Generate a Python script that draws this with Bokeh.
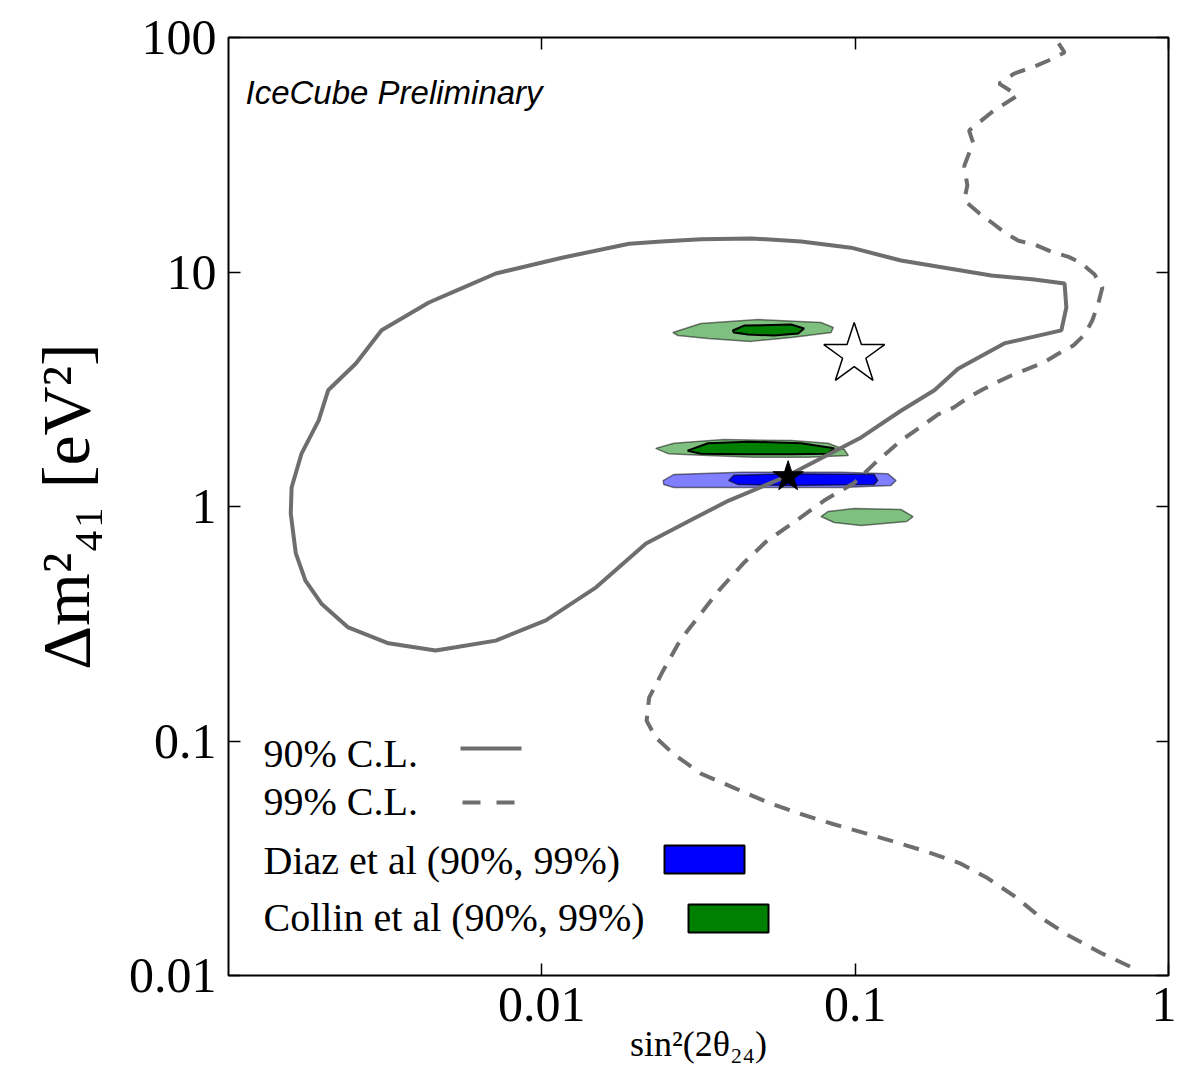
from bokeh.plotting import figure
from bokeh.models import (Range1d, FixedTicker, CustomJSTickFormatter, LogAxis,
                          Label, Arrow, PolyAnnotation)
from bokeh.embed import file_html
from bokeh.resources import INLINE

# ---------------- data ----------------
# IceCube 90% C.L. contour (closed)
cl90_sin2 = [0.0322, 0.0466, 0.0672, 0.0970, 0.140, 0.272, 0.373, 0.466, 0.472, 0.455,
             0.299, 0.213, 0.179, 0.140, 0.1045, 0.0593, 0.0395, 0.0310, 0.0215, 0.0149,
             0.0103, 0.00713, 0.00531, 0.00458, 0.00324, 0.00241, 0.00198, 0.00176, 0.00164, 0.00158,
             0.00159, 0.00171, 0.00194, 0.00208, 0.00255, 0.00308, 0.00436, 0.00554, 0.00713, 0.0116,
             0.0190, 0.0241, 0.0322]
cl90_dm2 = [13.8, 13.9, 13.5, 12.7, 11.2, 9.66, 9.29, 8.93, 7.06, 5.64,
            4.96, 3.87, 3.13, 2.56, 1.97, 1.33, 1.06, 0.898, 0.695, 0.452,
            0.327, 0.268, 0.251, 0.243, 0.261, 0.305, 0.385, 0.483, 0.631, 0.933,
            1.205, 1.68, 2.33, 3.13, 4.07, 5.64, 7.41, 8.51, 9.85, 11.5,
            13.2, 13.5, 13.8]

# IceCube 99% C.L. contour (open)
cl99_sin2 = [0.446, 0.466, 0.414, 0.373, 0.322, 0.288, 0.330, 0.272, 0.231, 0.238,
             0.223, 0.228, 0.223, 0.249, 0.272, 0.303, 0.332, 0.373, 0.423, 0.480,
             0.527, 0.581, 0.615, 0.597, 0.571, 0.540, 0.497, 0.446, 0.399, 0.357,
             0.315, 0.286, 0.256, 0.230, 0.206, 0.184, 0.166, 0.140, 0.115, 0.0993,
             0.0796, 0.0649, 0.0520, 0.0439, 0.0367, 0.0322, 0.0276, 0.0244, 0.0220, 0.0216,
             0.0231, 0.0262, 0.0322, 0.0407, 0.0527, 0.0662, 0.0838, 0.108, 0.136, 0.172,
             0.216, 0.266, 0.327, 0.390, 0.480, 0.607, 0.802]
cl99_dm2 = [94.3, 86.3, 79.8, 75.2, 70.2, 63.6, 56.6, 47.9, 40.1, 35.6,
            28.4, 23.4, 20.2, 17.8, 16.3, 14.6, 13.6, 13.1, 12.2, 11.6,
            10.9, 9.75, 8.59, 7.34, 6.21, 5.41, 4.86, 4.49, 4.11, 3.87,
            3.62, 3.41, 3.16, 2.92, 2.64, 2.47, 2.24, 1.91, 1.52, 1.26,
            1.06, 0.871, 0.709, 0.571, 0.438, 0.350, 0.268, 0.200, 0.153, 0.122,
            0.1035, 0.0885, 0.0726, 0.0634, 0.0547, 0.0491, 0.0445, 0.0404, 0.0369, 0.0335,
            0.0301, 0.0259, 0.0215, 0.0177, 0.0148, 0.0125, 0.0105]

# Collin et al regions (99% outer, 90% inner)
collin99_up_sin2 = [0.0262, 0.0322, 0.0490, 0.0778, 0.0851, 0.0838, 0.0625, 0.0466, 0.0339, 0.0272]
collin99_up_dm2 = [5.52, 6.03, 6.27, 6.09, 5.80, 5.52, 5.26, 5.06, 5.20, 5.36]
collin90_up_sin2 = [0.0407, 0.0442, 0.0625, 0.0687, 0.0658, 0.0551, 0.0455, 0.0410]
collin90_up_dm2 = [5.63, 5.91, 5.97, 5.74, 5.47, 5.36, 5.41, 5.52]
collin99_mid_sin2 = [0.0231, 0.0264, 0.0381, 0.0625, 0.0820, 0.0923, 0.0951, 0.0708, 0.0475, 0.0339, 0.0253]
collin99_mid_dm2 = [1.77, 1.86, 1.93, 1.91, 1.86, 1.75, 1.65, 1.62, 1.62, 1.65, 1.68]
collin90_mid_sin2 = [0.0292, 0.0339, 0.0455, 0.0672, 0.0857, 0.0820, 0.0625, 0.0433, 0.0322]
collin90_mid_dm2 = [1.73, 1.86, 1.89, 1.86, 1.77, 1.68, 1.67, 1.67, 1.68]
collin99_low_sin2 = [0.0778, 0.0820, 0.0993, 0.140, 0.153, 0.146, 0.1045, 0.0857]
collin99_low_dm2 = [0.906, 0.953, 0.980, 0.971, 0.906, 0.863, 0.830, 0.855]

# Diaz et al regions (99% outer, 90% inner)
diaz99_sin2 = [0.0244, 0.0264, 0.0433, 0.0902, 0.127, 0.135, 0.130, 0.0902, 0.0433, 0.0264, 0.0245]
diaz99_dm2 = [1.29, 1.37, 1.40, 1.40, 1.38, 1.29, 1.23, 1.205, 1.205, 1.205, 1.24]
diaz90_sin2 = [0.0395, 0.0410, 0.0625, 0.115, 0.118, 0.115, 0.0625, 0.0423]
diaz90_dm2 = [1.29, 1.36, 1.38, 1.37, 1.29, 1.24, 1.23, 1.24]

# best-fit points
bestfit_sin2 = [0.0611]
bestfit_dm2 = [1.34]
open_star_sin2 = [0.0993]
open_star_dm2 = [4.45]

x_ticks = [0.01, 0.1, 1]
y_ticks = [0.01, 0.1, 1, 10, 100]

legend_labels = ["90% C.L.", "99% C.L.", "Diaz et al (90%, 99%)", "Collin et al (90%, 99%)"]

# ---------------- figure ----------------
GREY = "#6e6e6e"
SERIF = "Liberation Serif"

p = figure(width=1176, height=1082, x_axis_type="log", y_axis_type="log",
           x_range=Range1d(0.001, 1), y_range=Range1d(0.01, 100),
           output_backend="svg", toolbar_location=None,
           min_border_left=228, min_border_right=8, min_border_top=37, min_border_bottom=107)
p.grid.visible = False
p.outline_line_color = "black"
p.outline_line_width = 2
p.outline_line_alpha = 1
p.background_fill_color = "white"
p.border_fill_color = "white"

fmt = CustomJSTickFormatter(code="return String(tick);")


def style(ax, ticks, labels=True):
    ax.ticker = FixedTicker(ticks=ticks)
    ax.formatter = fmt
    ax.axis_line_color = None
    ax.major_tick_in = 12
    ax.major_tick_out = 0
    ax.major_tick_line_color = "black"
    ax.major_tick_line_width = 1.5
    ax.minor_tick_line_color = None
    if labels:
        ax.major_label_text_font = SERIF
        ax.major_label_text_font_size = "50px"
        ax.major_label_text_color = "black"
    else:
        ax.major_label_text_font_size = "1px"
        ax.major_label_text_color = None
        ax.major_label_standoff = 0


style(p.xaxis[0], x_ticks)
style(p.yaxis[0], y_ticks)
p.xaxis[0].major_label_standoff = 12
p.yaxis[0].major_label_standoff = 12
p.xaxis[0].axis_label = "sin²(2θ₂₄)"
p.xaxis[0].axis_label_text_font = SERIF
p.xaxis[0].axis_label_text_font_size = "36px"
p.xaxis[0].axis_label_text_font_style = "normal"
p.xaxis[0].axis_label_text_color = "black"
p.xaxis[0].axis_label_standoff = 0
p.yaxis[0].axis_label = "Δm²₄₁ [eV²]"
p.yaxis[0].axis_label_text_font = SERIF
p.yaxis[0].axis_label_text_font_size = "68px"
p.yaxis[0].axis_label_text_font_style = "normal"
p.yaxis[0].axis_label_text_color = "black"
p.yaxis[0].axis_label_standoff = 22

top_ax = LogAxis()
style(top_ax, x_ticks, labels=False)
p.add_layout(top_ax, "above")
right_ax = LogAxis()
style(right_ax, y_ticks, labels=False)
p.add_layout(right_ax, "right")

# ---------------- regions ----------------
def region(xs, ys, fill, alpha, lc, la, lw):
    p.patch(xs, ys, fill_color=fill, fill_alpha=alpha, line_color=lc, line_alpha=la, line_width=lw)

region(collin99_up_sin2, collin99_up_dm2, "green", 0.5, "black", 0.5, 1.5)
region(collin90_up_sin2, collin90_up_dm2, "green", 1.0, "black", 1.0, 2)
region(collin99_mid_sin2, collin99_mid_dm2, "green", 0.5, "black", 0.5, 1.5)
region(collin90_mid_sin2, collin90_mid_dm2, "green", 1.0, "black", 1.0, 2)
region(collin99_low_sin2, collin99_low_dm2, "green", 0.5, "black", 0.5, 1.5)
region(diaz99_sin2, diaz99_dm2, "blue", 0.5, "black", 0.5, 1.5)
region(diaz90_sin2, diaz90_dm2, "blue", 1.0, "black", 0.6, 1.5)

# ---------------- IceCube contours ----------------
p.line(cl90_sin2, cl90_dm2, line_color=GREY, line_width=4)
p.line(cl99_sin2, cl99_dm2, line_color=GREY, line_width=4, line_dash="16 11")

p.scatter(bestfit_sin2, bestfit_dm2, marker="star", size=32, fill_color="black", line_color="black")
p.scatter(open_star_sin2, open_star_dm2, marker="star", size=64, fill_color="white",
          line_color="black", line_width=1.5)

# ---------------- annotation / legend ----------------
p.add_layout(Label(x=17, y=883, x_units="screen", y_units="screen", text="IceCube Preliminary",
                   text_font="Liberation Sans", text_font_style="italic", text_font_size="33px",
                   text_baseline="alphabetic", text_color="black"))

row_y = [222, 174, 115, 58]
for lab, yy in zip(legend_labels, row_y):
    p.add_layout(Label(x=35, y=yy, x_units="screen", y_units="screen", text=lab,
                       text_font=SERIF, text_font_size="40px", text_baseline="middle",
                       text_color="black"))

p.add_layout(Arrow(x_start=232, y_start=227, x_end=293, y_end=227, start_units="screen",
                   end_units="screen", end=None, line_color=GREY, line_width=4))
p.add_layout(Arrow(x_start=234, y_start=173, x_end=286, y_end=173, start_units="screen",
                   end_units="screen", end=None, line_color=GREY, line_width=4, line_dash="18 16"))
p.add_layout(PolyAnnotation(xs=[436, 516, 516, 436], ys=[102, 102, 130, 130], xs_units="screen",
                            ys_units="screen", fill_color="blue", fill_alpha=1,
                            line_color="black", line_width=2, line_alpha=1))
p.add_layout(PolyAnnotation(xs=[460, 540, 540, 460], ys=[43, 43, 71, 71], xs_units="screen",
                            ys_units="screen", fill_color="green", fill_alpha=1,
                            line_color="black", line_width=2, line_alpha=1))

open("out.html", "w").write(file_html(p, INLINE))
